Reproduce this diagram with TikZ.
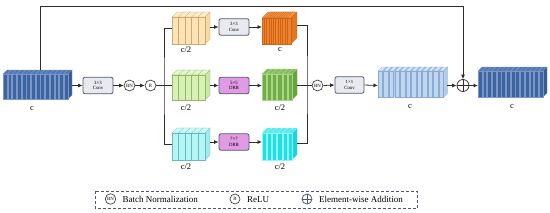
\documentclass[tikz,border=0pt]{standalone}
\usepackage{fontspec}
\setmainfont{Liberation Serif}
\usetikzlibrary{arrows.meta}
% tensor colours: f front, t top, s side, l lines
\definecolor{dbf}{RGB}{62,100,160}\definecolor{dbt}{RGB}{80,118,178}\definecolor{dbs}{RGB}{55,90,148}\definecolor{dbl}{RGB}{120,150,200}
\definecolor{lof}{RGB}{252,228,180}\definecolor{lot}{RGB}{253,236,204}\definecolor{los}{RGB}{245,218,165}\definecolor{lol}{RGB}{200,170,115}
\definecolor{orf}{RGB}{240,130,40}\definecolor{ort}{RGB}{244,150,70}\definecolor{ors}{RGB}{228,118,32}\definecolor{orl}{RGB}{205,100,25}
\definecolor{lgf}{RGB}{215,240,180}\definecolor{lgt}{RGB}{228,246,202}\definecolor{lgs}{RGB}{200,230,165}\definecolor{lgl}{RGB}{145,185,105}
\definecolor{dgf}{RGB}{112,173,71}\definecolor{dgt}{RGB}{130,188,90}\definecolor{dgs}{RGB}{102,162,62}\definecolor{dgl}{RGB}{170,215,135}
\definecolor{lcf}{RGB}{180,245,245}\definecolor{lct}{RGB}{205,250,250}\definecolor{lcs}{RGB}{160,235,238}\definecolor{lcl}{RGB}{105,185,195}
\definecolor{cyf}{RGB}{30,225,230}\definecolor{cyt}{RGB}{80,235,238}\definecolor{cys}{RGB}{25,212,220}\definecolor{cyl}{RGB}{150,245,248}
\definecolor{lbf}{RGB}{190,215,240}\definecolor{lbt}{RGB}{210,228,246}\definecolor{lbs}{RGB}{178,205,232}\definecolor{lbl}{RGB}{140,170,210}
\definecolor{boxdraw}{RGB}{80,88,110}
\definecolor{convfill}{RGB}{232,234,240}
\definecolor{drbfill}{RGB}{225,155,228}
\definecolor{linec}{RGB}{45,45,45}
% #1 x left, #2 y front top, #3 height, #4 slices, #5 slice width, #6 spacing, #7 depth, #8 colour prefix
\newcommand{\tensorblk}[8]{%
  \foreach \ti in {1,...,#4}{%
    \pgfmathsetmacro\xa{#1+(\ti-1)*#6}%
    \pgfmathsetmacro\xb{\xa+#5}%
    \filldraw[fill=#8t,draw=#8l,line width=0.3pt] (\xa,#2) -- (\xa+#7,#2-#7) -- (\xb+#7,#2-#7) -- (\xb,#2) -- cycle;
    \filldraw[fill=#8s,draw=#8l,line width=0.3pt] (\xb,#2) -- (\xb+#7,#2-#7) -- (\xb+#7,#2+#3-#7) -- (\xb,#2+#3) -- cycle;
    \filldraw[fill=#8f,draw=#8l,line width=0.3pt] (\xa,#2) rectangle (\xb,#2+#3);
  }}
\begin{document}
\begin{tikzpicture}[x=1pt,y=-1pt,
  opbox/.style={draw=boxdraw,line width=0.8pt,rounded corners=2pt,minimum width=30pt,minimum height=16.5pt,inner sep=0pt,align=center,font=\fontsize{4.8}{5.4}\selectfont},
  convbox/.style={opbox,fill=convfill},
  drbbox/.style={opbox,fill=drbfill},
  opcirc/.style={circle,draw=linec,line width=0.6pt,fill=white,minimum size=11pt,inner sep=0pt,font=\fontsize{4.8}{5}\selectfont},
  lbl/.style={font=\fontsize{8.5}{9}\selectfont},
  arr/.style={draw=linec,line width=0.8pt,-{Latex[length=4.5pt,width=4pt]}},
  ln/.style={draw=linec,line width=0.8pt},
  legtxt/.style={font=\fontsize{9}{10}\selectfont,anchor=west,inner sep=0pt}]
\useasboundingbox (0,0) rectangle (550,212);

% tensors
\tensorblk{3}{74}{25}{14}{3.9}{4.7}{4}{db}
\tensorblk{172}{17}{27}{5}{7}{6.5}{5}{lo}
\tensorblk{262}{18}{26}{12}{4}{2.27}{6}{or}
\tensorblk{172}{75}{25}{5}{7}{6.5}{5}{lg}
\tensorblk{262}{74}{26}{6}{4.2}{5.2}{5}{dg}
\tensorblk{172}{133}{27}{5}{7}{6.5}{5}{lc}
\tensorblk{262}{133}{27}{6}{4.2}{5.2}{5}{cy}
\tensorblk{378}{71}{26}{12}{4.5}{5.55}{4}{lb}
\tensorblk{478}{71}{26}{14}{3.9}{4.7}{4}{db}

% tensor anchor coordinates
\coordinate (in-r) at (72,85.5);
\coordinate (sk) at (40,70);
\coordinate (tl-l) at (172,28);
\coordinate (tl-r) at (210,27);
\coordinate (to-l) at (262,27);
\coordinate (to-r) at (297,25);
\coordinate (ml-l) at (172,85.5);
\coordinate (ml-r) at (210,85.5);
\coordinate (mg-l) at (262,85.5);
\coordinate (mg-r) at (297,85.5);
\coordinate (bl-l) at (172,144);
\coordinate (bl-r) at (210,142);
\coordinate (cy-l) at (262,142);
\coordinate (cy-r) at (297,143);
\coordinate (lb-l) at (378,85.5);
\coordinate (lb-r) at (447,85.5);
\coordinate (out-l) at (478,85.5);
\coordinate (br) at (164,85.5);
\coordinate (mg) at (307,85.5);

% labels
\node[lbl] (t-in) at (32,109) {c};
\node[lbl] (t-lo) at (186,50) {c/2};
\node[lbl] (t-or) at (280,50) {c};
\node[lbl] (t-lg) at (186,108) {c/2};
\node[lbl] (t-dg) at (280,108) {c/2};
\node[lbl] (t-lc) at (186,167) {c/2};
\node[lbl] (t-cy) at (280,167) {c/2};
\node[lbl] (t-lb) at (410,107) {c};
\node[lbl] (t-out) at (512,107) {c};

% operators
\node[convbox] (conv1) at (98,85.5) {3×3\\Conv};
\node[opcirc] (bn1) at (129.5,85.5) {BN};
\node[opcirc] (r1) at (150.5,85.5) {R};
\node[convbox] (conv2) at (234,27) {3×3\\Conv};
\node[drbbox] (drb5) at (234,85.5) {5×5\\DRB};
\node[drbbox] (drb7) at (234,142) {7×7\\DRB};
\node[opcirc] (bn2) at (317.5,85.5) {BN};
\node[convbox,minimum width=29pt] (conv3) at (349.5,85) {1×1\\Conv};
\node[circle,draw=linec,line width=0.7pt,fill=white,minimum size=12pt,inner sep=0pt] (add) at (463,85.5) {};
\draw[linec,line width=0.7pt] (add.north) -- (add.south) (add.west) -- (add.east);

% connectors
\draw[arr] (in-r) -- (conv1.west);
\draw[arr] (conv1.east) -- (bn1.west);
\draw[arr] (bn1.east) -- (r1.west);
\draw[ln] (r1.east) -- (br);
\draw[ln] (tl-l) -| (br) |- (bl-l);
\draw[ln] (br) -- (ml-l);
\draw[arr] (tl-r) -- (conv2.west);
\draw[arr] (conv2.east) -- (to-l);
\draw[arr] (ml-r) -- (drb5.west);
\draw[arr] (drb5.east) -- (mg-l);
\draw[arr] (bl-r) -- (drb7.west);
\draw[arr] (drb7.east) -- (cy-l);
\draw[ln] (to-r) -| (mg) |- (cy-r);
\draw[ln] (mg-r) -- (bn2.west);
\draw[arr] (bn2.east) -- (conv3.west);
\draw[arr] (conv3.east) -- (lb-l);
\draw[arr] (lb-r) -- (add.west);
\draw[arr] (add.east) -- (out-l);
\draw[arr] (sk) -- ++(0,-64) -| (add.north);

% legend
\draw[draw=boxdraw,line width=0.8pt,dash pattern=on 3pt off 2pt] (95,191) rectangle (417,208.5);
\node[opcirc,minimum size=10.5pt] (lg-bn) at (110.5,199) {BN};
\node[legtxt] (lg-bnt) at (122.5,199.5) {Batch Normalization};
\node[opcirc,minimum size=10pt] (lg-r) at (235,199) {R};
\node[legtxt] (lg-rt) at (247,199.5) {ReLU};
\node[circle,draw=boxdraw,line width=0.8pt,minimum size=10pt,inner sep=0pt] (lg-add) at (307,199) {};
\draw[boxdraw,line width=0.8pt] (lg-add.north) -- (lg-add.south) (lg-add.west) -- (lg-add.east);
\node[legtxt] (lg-addt) at (319,199.5) {Element-wise Addition};
\end{tikzpicture}
\end{document}
